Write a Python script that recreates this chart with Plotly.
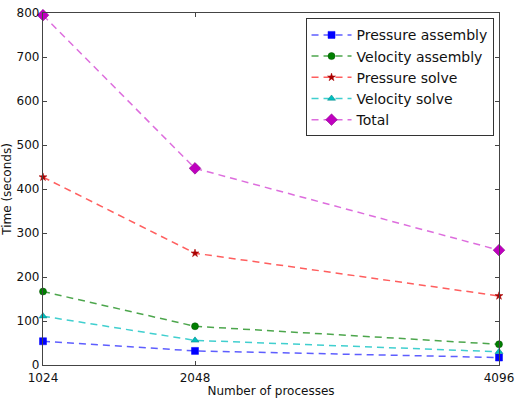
import plotly.graph_objects as go

processes = [1024, 2048, 4096]
pressure_assembly = [54, 32, 17]
velocity_assembly = [167, 88, 47]
pressure_solve = [427, 254, 157]
velocity_solve = [111, 56, 30]
total = [795, 447, 261]

series = [
    ("Pressure assembly", pressure_assembly, "square", 7, "#0000ff", "rgba(40,40,255,0.75)", "#0000ff"),
    ("Velocity assembly", velocity_assembly, "circle", 7, "#007f00", "rgba(0,128,0,0.7)", "#005000"),
    ("Pressure solve", pressure_solve, "star", 6, "#aa0000", "rgba(255,40,40,0.75)", "#aa0000"),
    ("Velocity solve", velocity_solve, "triangle-up", 7, "#00bfbf", "rgba(0,191,191,0.75)", "#008080"),
    ("Total", total, "diamond", 9, "#bf00bf", "rgba(210,60,210,0.75)", "#800080"),
]

fig = go.Figure()
for name, vals, sym, size, mcol, lcol, edge in series:
    fig.add_trace(go.Scatter(
        x=processes, y=vals, name=name, mode="lines+markers",
        line=dict(color=lcol, width=1.5, dash="7px,5px"),
        marker=dict(symbol=sym, size=size, color=mcol, line=dict(color=edge, width=0.5)),
        cliponaxis=False,
    ))

axis_common = dict(
    showline=True, linecolor="#444", linewidth=1.2, mirror="ticks",
    ticks="inside", ticklen=4, tickcolor="#444", showgrid=False, zeroline=False,
    tickfont=dict(family="DejaVu Sans", size=12, color="#111"),
    automargin=False,
)

fig.update_layout(
    width=516, height=398,
    margin=dict(l=43, r=17, t=13, b=33),
    paper_bgcolor="white", plot_bgcolor="white",
    font=dict(family="DejaVu Sans", size=12, color="#111"),
    xaxis=dict(range=[1024, 4096], tickvals=processes, ticktext=[str(p) for p in processes],
               ticklabelstandoff=1,
               title=dict(text="Number of processes", standoff=9, font=dict(size=12)), **axis_common),
    yaxis=dict(range=[0, 800], dtick=100,
               title=dict(text="Time (seconds)", standoff=10, font=dict(size=12)), **axis_common),
    legend=dict(x=0.988, y=0.985, xanchor="right", yanchor="top",
                bordercolor="#333", borderwidth=1, bgcolor="white",
                font=dict(family="DejaVu Sans", size=14, color="#111"),
                tracegroupgap=0, itemwidth=40),
    showlegend=True,
)

fig.write_html("out.html")
